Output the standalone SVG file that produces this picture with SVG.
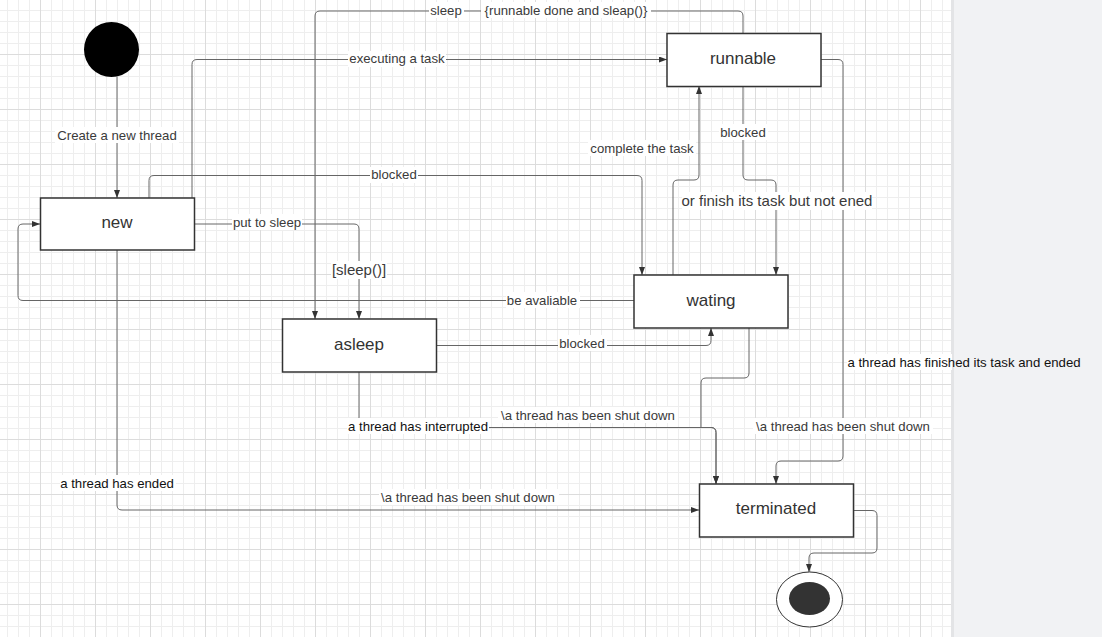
<svg xmlns="http://www.w3.org/2000/svg" width="1102" height="637" viewBox="0 0 1102 637">
<style>
.node rect{fill:#fff;stroke:#333;stroke-width:1.5}
.ntext{font-family:"Liberation Sans",Arial,sans-serif;font-size:17px;fill:#333;text-anchor:middle}
.lbl{font-family:"Liberation Sans",Arial,sans-serif;font-size:13.2px;fill:#3a3a3a;text-anchor:middle}
.lbl.big{font-size:15px}
.lbl.dk{fill:#111}
.bg{fill:#fff}
.edge{fill:none;stroke:#666;stroke-width:1}
</style>
<defs>
<pattern id="grid" x="40" y="54" width="55" height="55" patternUnits="userSpaceOnUse">
<rect width="55" height="55" fill="#fff"/>
<rect x="11" y="0" width="1" height="55" fill="#eeeeee"/>
<rect x="22" y="0" width="1" height="55" fill="#eeeeee"/>
<rect x="33" y="0" width="1" height="55" fill="#eeeeee"/>
<rect x="44" y="0" width="1" height="55" fill="#eeeeee"/>
<rect x="0" y="11" width="55" height="1" fill="#eeeeee"/>
<rect x="0" y="22" width="55" height="1" fill="#eeeeee"/>
<rect x="0" y="33" width="55" height="1" fill="#eeeeee"/>
<rect x="0" y="44" width="55" height="1" fill="#eeeeee"/>
<rect x="0" y="0" width="1" height="55" fill="#dcdcdc"/>
<rect x="0" y="0" width="55" height="1" fill="#dcdcdc"/>
</pattern>
<marker id="arr" markerUnits="userSpaceOnUse" markerWidth="10" markerHeight="8" refX="8" refY="3" orient="auto">
<path d="M0,0 L8,3 L0,6 z" fill="#333"/>
</marker>
</defs>
<rect x="0" y="0" width="952" height="637" fill="url(#grid)"/>
<rect x="952" y="0" width="150" height="637" fill="#f1f2f4"/>
<rect x="951" y="0" width="3" height="637" fill="#e3e4e6"/>

<g id="connectors">
<path class="edge" marker-end="url(#arr)" d="M117,77 V198"/>
<path class="edge" marker-end="url(#arr)" d="M192,198 V64.5 Q192,59.5 197,59.5 H667"/>
<path class="edge" marker-end="url(#arr)" d="M743,33 V16 Q743,11 738,11 H320 Q315,11 315,16 V319"/>
<path class="edge" marker-end="url(#arr)" d="M149,198 V180.5 Q149,175.5 154,175.5 H637 Q642,175.5 642,180.5 V275"/>
<path class="edge" marker-end="url(#arr)" d="M194,224 H354 Q359,224 359,229 V319"/>
<path class="edge" marker-end="url(#arr)" d="M634,300.5 H23 Q18,300.5 18,295.5 V229 Q18,224 23,224 H40"/>
<path class="edge" marker-end="url(#arr)" d="M436,345.5 H706 Q711,345.5 711,340.5 V328"/>
<path class="edge" marker-end="url(#arr)" d="M673,275 V185 Q673,180 678,180 H694 Q699,180 699,175 V86"/>
<path class="edge" marker-end="url(#arr)" d="M743,86 V175 Q743,180 748,180 H771 Q776,180 776,185 V275"/>
<path class="edge" marker-end="url(#arr)" d="M821,59.5 H838 Q843,59.5 843,64.5 V456 Q843,461 838,461 H781 Q776,461 776,466 V484"/>
<path class="edge" marker-end="url(#arr)" d="M749,328 V373 Q749,378 744,378 H706 Q701,378 701,383 V427.5 H711 Q716,427.5 716,432.5 V484"/>
<path class="edge" marker-end="url(#arr)" d="M359,372 V427.5 H711 Q716,427.5 716,432.5 V484"/>
<path class="edge" marker-end="url(#arr)" d="M117,250 V505 Q117,510 122,510 H699"/>
<path class="edge" marker-end="url(#arr)" d="M853,510.5 H872 Q877,510.5 877,515.5 V548 Q877,553 872,553 H814 Q809,553 809,558 V572"/>

<rect class="bg" x="55" y="127" width="124" height="16"/>
<text class="lbl" x="117" y="140">Create a new thread</text>
<rect class="bg" x="348" y="51" width="98" height="16"/>
<text class="lbl" x="397" y="63">executing a task</text>
<rect class="bg" x="429" y="2" width="35" height="16"/>
<text class="lbl" x="446" y="15">sleep</text>
<rect class="bg" x="481" y="2" width="170" height="16"/>
<text class="lbl" x="566" y="15">{runnable done and sleap()}</text>
<rect class="bg" x="370" y="167" width="48" height="16"/>
<text class="lbl" x="394" y="179">blocked</text>
<rect class="bg" x="232" y="214" width="70" height="16"/>
<text class="lbl" x="267" y="227">put to sleep</text>
<rect class="bg" x="331" y="261" width="56" height="18"/>
<text class="lbl big" x="359" y="275">[sleep()]</text>
<rect class="bg" x="506" y="292" width="74" height="16"/>
<text class="lbl" x="542" y="305">be avaliable</text>
<rect class="bg" x="558" y="335" width="49" height="16"/>
<text class="lbl" x="582" y="348">blocked</text>
<rect class="bg" x="588" y="140" width="108" height="16"/>
<text class="lbl" x="642" y="153">complete the task</text>
<rect class="bg" x="719" y="124" width="49" height="16"/>
<text class="lbl" x="743" y="137">blocked</text>
<rect class="bg" x="682" y="192" width="190" height="18"/>
<text class="lbl big" x="777" y="206">or finish its task but not ened</text>
<rect class="bg" x="847" y="354" width="105" height="16"/>
<text class="lbl dk" x="964" y="367">a thread has finished its task and ended</text>
<rect class="bg" x="753" y="418" width="180" height="16"/>
<text class="lbl" x="843" y="431">\a thread has been shut down</text>
<rect class="bg" x="347" y="418" width="142" height="16"/>
<text class="lbl dk" x="418" y="431">a thread has interrupted</text>
<rect class="bg" x="498" y="407" width="180" height="16"/>
<text class="lbl" x="588" y="420">\a thread has been shut down</text>
<rect class="bg" x="60" y="475" width="116" height="16"/>
<text class="lbl dk" x="117" y="488">a thread has ended</text>
<rect class="bg" x="379" y="489" width="180" height="16"/>
<text class="lbl" x="468" y="502">\a thread has been shut down</text>
</g>

<g id="initial"><circle cx="111.5" cy="49.5" r="27.5" fill="#000"/></g>
<g id="new" class="node"><rect x="40.5" y="198" width="154" height="52"/><text class="ntext" x="117" y="228">new</text></g>
<g id="runnable" class="node"><rect x="667" y="33.5" width="154" height="53"/><text class="ntext" x="743" y="64">runnable</text></g>
<g id="wating" class="node"><rect x="634" y="275" width="154" height="53"/><text class="ntext" x="711" y="306">wating</text></g>
<g id="asleep" class="node"><rect x="282.5" y="319" width="154" height="53"/><text class="ntext" x="359" y="350">asleep</text></g>
<g id="terminated" class="node"><rect x="699.5" y="484" width="154" height="53"/><text class="ntext" x="776" y="514">terminated</text></g>
<g id="final"><ellipse cx="809.5" cy="599.5" rx="33" ry="27.5" fill="#fff" stroke="#333" stroke-width="1"/><ellipse cx="809.5" cy="598.5" rx="20.5" ry="16.5" fill="#333"/></g>
</svg>
